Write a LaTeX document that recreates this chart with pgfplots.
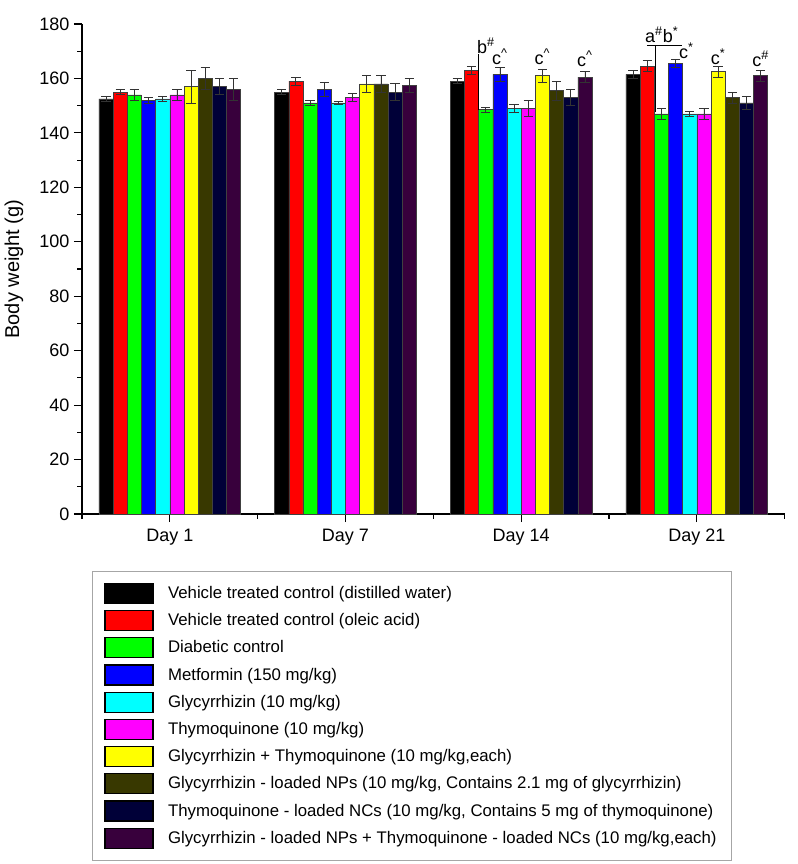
\documentclass[border=0pt]{standalone}
\usepackage{pgfplots}
\pgfplotsset{compat=1.18}
\usepackage{fontspec}
\setmainfont{Liberation Sans}

\definecolor{cBlack}{RGB}{0,0,0}
\definecolor{cRed}{RGB}{255,0,0}
\definecolor{cGreen}{RGB}{0,255,0}
\definecolor{cBlue}{RGB}{0,0,255}
\definecolor{cCyan}{RGB}{0,255,255}
\definecolor{cMagenta}{RGB}{255,0,255}
\definecolor{cYellow}{RGB}{255,255,0}
\definecolor{cOlive}{RGB}{56,56,0}
\definecolor{cNavy}{RGB}{0,0,56}
\definecolor{cPurple}{RGB}{56,0,60}

\pgfplotsset{
  grp/.style={fill=#1, draw=black!75, line width=0.4pt,
    error bars/.cd, y dir=both, y explicit,
    error bar style={black!80, line width=0.6pt},
    error mark options={rotate=90, mark size=3.5pt, line width=0.6pt}},
}
\newcommand{\ann}[1]{\fontsize{13.5}{15}\selectfont #1}

\begin{document}
\begin{tikzpicture}
\useasboundingbox (-61.5pt,-262.5pt) rectangle (537pt,385.5pt);
\begin{axis}[
  at={(0,0)}, anchor=south west,
  scale only axis, width=527pt, height=367.5pt,
  ybar=0pt, bar width=0.0807,
  xmin=0.5, xmax=4.5, ymin=0, ymax=180,
  axis lines*=left,
  axis line style={line width=1.1pt},
  xtick={1,2,3,4}, xticklabels={Day 1,Day 7,Day 14,Day 21},
  minor xtick={0.5,1.5,2.5,3.5,4.5},
  ytick={0,20,...,180}, minor ytick={10,30,...,170},
  tick align=outside,
  major tick length=6pt, minor tick length=3.5pt,
  tick style={black, line width=0.9pt},
  ticklabel style={font=\fontsize{13.5}{15}\selectfont},
  xticklabel style={yshift=-2pt},
  /pgf/number format/assume math mode=true,
  ylabel={Body weight (g)},
  ylabel style={font=\fontsize{15}{17}\selectfont, at={(axis description cs:-0.097,0.5)}, anchor=center},
  legend image code/.code={\draw[#1,draw=black,line width=0.9pt] (0pt,-7.5pt) rectangle (36pt,7.5pt); \path[draw=none,fill=none] (0pt,0pt) -- (45.3pt,0pt);},
  legend style={at={(0.014,-0.116)}, anchor=north west, draw=gray!70, line width=0.8pt,
    font=\fontsize{12.6}{14}\selectfont, row sep=4.5pt, inner xsep=9pt, inner ysep=8.5pt},
  legend cell align=left,
  clip=false,
]
\addplot[grp=cBlack] coordinates {(1,152.5)+-(0,1) (2,155)+-(0,1) (3,159)+-(0,1) (4,161.5)+-(0,1.5)};
\addlegendentry{Vehicle treated control (distilled water)}
\addplot[grp=cRed] coordinates {(1,155)+-(0,1) (2,159)+-(0,1.5) (3,163)+-(0,1.5) (4,164.5)+-(0,2)};
\addlegendentry{Vehicle treated control (oleic acid)}
\addplot[grp=cGreen] coordinates {(1,154)+-(0,2) (2,151)+-(0,1) (3,148.5)+-(0,0.8) (4,147)+-(0,2)};
\addlegendentry{Diabetic control}
\addplot[grp=cBlue] coordinates {(1,152)+-(0,1) (2,156)+-(0,2.5) (3,161.5)+-(0,2.5) (4,165.5)+-(0,1.5)};
\addlegendentry{Metformin (150 mg/kg)}
\addplot[grp=cCyan] coordinates {(1,152.5)+-(0,1) (2,151)+-(0,0.5) (3,149)+-(0,1.5) (4,147)+-(0,0.8)};
\addlegendentry{Glycyrrhizin (10 mg/kg)}
\addplot[grp=cMagenta] coordinates {(1,154)+-(0,2) (2,153)+-(0,1.5) (3,149)+-(0,3) (4,147)+-(0,2)};
\addlegendentry{Thymoquinone (10 mg/kg)}
\addplot[grp=cYellow] coordinates {(1,157)+-(0,6) (2,158)+-(0,3) (3,161)+-(0,2.5) (4,162.5)+-(0,2)};
\addlegendentry{Glycyrrhizin + Thymoquinone (10 mg/kg,each)}
\addplot[grp=cOlive] coordinates {(1,160)+-(0,4) (2,158)+-(0,3) (3,155.5)+-(0,3.5) (4,153)+-(0,2)};
\addlegendentry{Glycyrrhizin - loaded NPs (10 mg/kg, Contains 2.1 mg of glycyrrhizin)}
\addplot[grp=cNavy] coordinates {(1,157)+-(0,3) (2,155)+-(0,3) (3,153)+-(0,3) (4,151)+-(0,2.5)};
\addlegendentry{Thymoquinone - loaded NCs (10 mg/kg, Contains 5 mg of thymoquinone)}
\addplot[grp=cPurple] coordinates {(1,156)+-(0,4) (2,157.5)+-(0,2.5) (3,160.5)+-(0,2) (4,161)+-(0,2)};
\addlegendentry{Glycyrrhizin - loaded NPs + Thymoquinone - loaded NCs (10 mg/kg,each)}

% significance marks
\draw[black, line width=0.8pt] (axis cs:2.758,148.5) -- (axis cs:2.758,169);
\node[anchor=south] at (axis cs:2.80,167.5) {\ann{b\textsuperscript{\#}}};
\node[anchor=south] at (axis cs:2.879,163.5) {\ann{c\textsuperscript{\textasciicircum}}};
\node[anchor=south] at (axis cs:3.121,163.5) {\ann{c\textsuperscript{\textasciicircum}}};
\node[anchor=south] at (axis cs:3.363,162.5) {\ann{c\textsuperscript{\textasciicircum}}};
\draw[black, line width=0.8pt] (axis cs:3.767,147.5) -- (axis cs:3.767,172);
\draw[black, line width=0.8pt] (axis cs:3.716,172) -- (axis cs:3.915,172);
\node[anchor=south] at (axis cs:3.80,171.5) {\ann{a\textsuperscript{\#}b\textsuperscript{*}}};
\node[anchor=south] at (axis cs:3.94,165.5) {\ann{c\textsuperscript{*}}};
\node[anchor=south] at (axis cs:4.121,163.5) {\ann{c\textsuperscript{*}}};
\node[anchor=south] at (axis cs:4.363,162.5) {\ann{c\textsuperscript{\#}}};
\end{axis}
\end{tikzpicture}
\end{document}
